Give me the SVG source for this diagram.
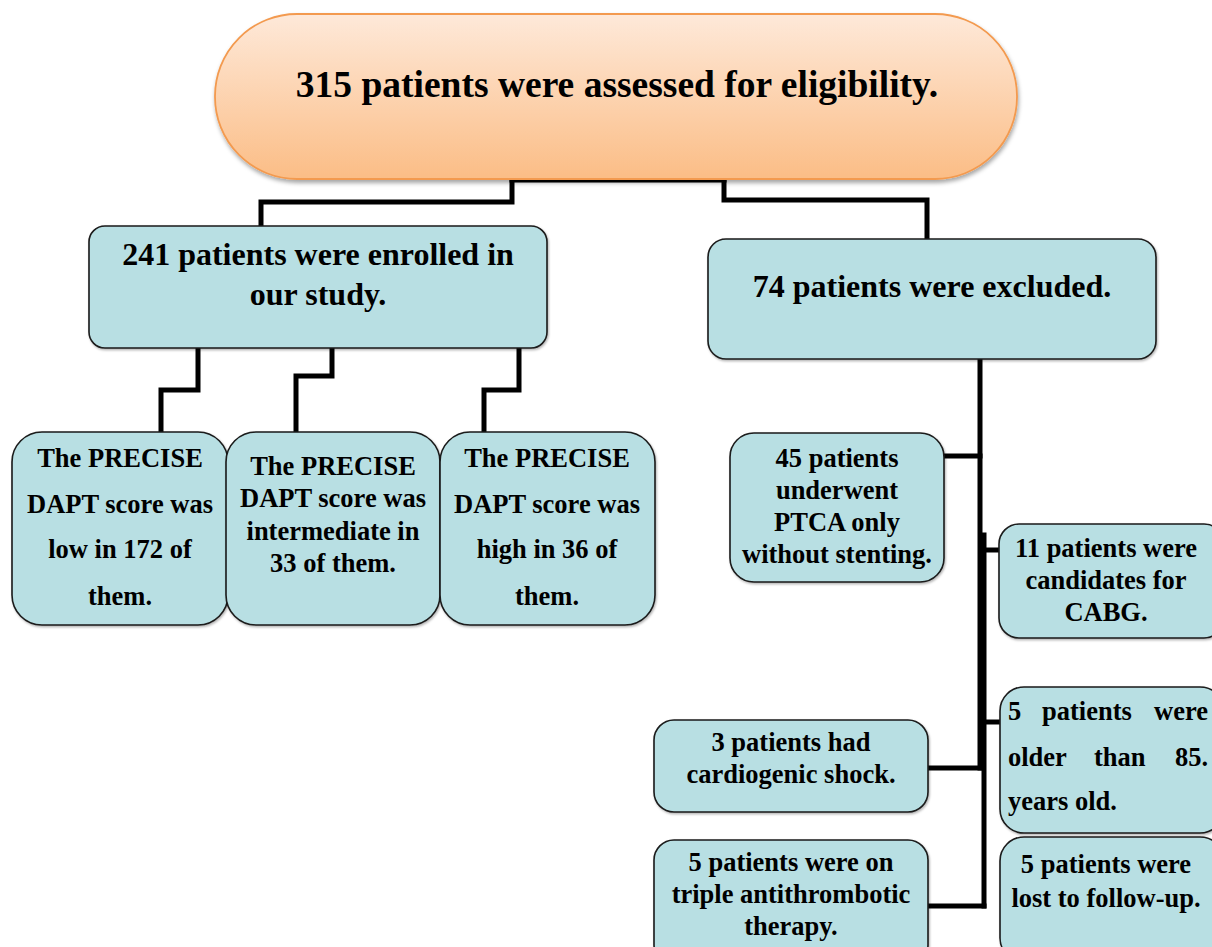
<svg xmlns="http://www.w3.org/2000/svg" width="1212" height="947" viewBox="0 0 1212 947">
<defs>
<linearGradient id="pillGrad" x1="0" y1="0" x2="0" y2="1">
<stop offset="0" stop-color="#fee9d9"/>
<stop offset="1" stop-color="#fbbd86"/>
</linearGradient>
<filter id="shadow" x="-5%" y="-10%" width="110%" height="125%">
<feDropShadow dx="1" dy="3" stdDeviation="2" flood-color="#000" flood-opacity="0.35"/>
</filter>
<filter id="bshadow" x="-5%" y="-5%" width="110%" height="115%">
<feDropShadow dx="1" dy="1.5" stdDeviation="1" flood-color="#000" flood-opacity="0.3"/>
</filter>
</defs>
<style>
.box{fill:#b8dfe3;stroke:#1a1a1a;stroke-width:1.6;filter:url(#bshadow)}
.t{font-family:"Liberation Serif","Times New Roman",serif;font-weight:bold;fill:#000;text-anchor:middle}
.s{font-size:26.5px}
.conn{fill:none;stroke:#000;stroke-width:5;stroke-linejoin:miter;stroke-linecap:square}
</style>
<rect width="1212" height="947" fill="#fff"/>

<g id="connectors">
<path class="conn" d="M512,180 H724"/>
<path class="conn" d="M512,180 V202 H261 V226"/>
<path class="conn" d="M724,180 V200 H927 V240"/>
<path class="conn" d="M198,348 V390 H161 V432"/>
<path class="conn" d="M332,348 V376 H296 V432"/>
<path class="conn" d="M519,348 V390 H484 V432"/>
<path class="conn" d="M980,359 V768"/>
<path class="conn" d="M984,535 V906"/>
<path class="conn" d="M944,456 H980"/>
<path class="conn" d="M986,550 H999"/>
<path class="conn" d="M986,722 H1000"/>
<path class="conn" d="M928,768 H980"/>
<path class="conn" d="M928,906 H984"/>
</g>

<g id="node-assessed">
<rect x="215" y="14" width="802" height="165" rx="82" ry="82" fill="url(#pillGrad)" stroke="#f39a4f" stroke-width="1.8" filter="url(#shadow)"/>
<text class="t" x="617" y="97" font-size="37.5">315 patients were assessed for eligibility.</text>
</g>

<g id="node-enrolled">
<rect class="box" x="89" y="226" width="458" height="122" rx="16"/>
<text class="t" font-size="32"><tspan x="318" y="265">241 patients were enrolled in</tspan><tspan x="318" y="305">our study.</tspan></text>
</g>

<g id="node-excluded">
<rect class="box" x="708" y="239" width="448" height="120" rx="18"/>
<text class="t" x="932" y="297" font-size="32">74 patients were excluded.</text>
</g>

<g id="node-low">
<rect class="box" x="12" y="432" width="216" height="193" rx="30"/>
<text class="t s"><tspan x="120" y="467">The PRECISE</tspan><tspan x="120" y="513">DAPT score was</tspan><tspan x="120" y="558">low in 172 of</tspan><tspan x="120" y="605">them.</tspan></text>
</g>

<g id="node-intermediate">
<rect class="box" x="226" y="432" width="214" height="193" rx="30"/>
<text class="t s"><tspan x="333" y="475">The PRECISE</tspan><tspan x="333" y="507">DAPT score was</tspan><tspan x="333" y="540">intermediate in</tspan><tspan x="333" y="572">33 of them.</tspan></text>
</g>

<g id="node-high">
<rect class="box" x="440" y="432" width="215" height="193" rx="30"/>
<text class="t s"><tspan x="547" y="467">The PRECISE</tspan><tspan x="547" y="513">DAPT score was</tspan><tspan x="547" y="558">high in 36 of</tspan><tspan x="547" y="605">them.</tspan></text>
</g>

<g id="node-ptca">
<rect class="box" x="730" y="433" width="214" height="149" rx="24"/>
<text class="t s"><tspan x="837" y="467">45 patients</tspan><tspan x="837" y="499">underwent</tspan><tspan x="837" y="531">PTCA only</tspan><tspan x="837" y="563">without stenting.</tspan></text>
</g>

<g id="node-cabg">
<rect class="box" x="999" y="524" width="225" height="114" rx="20"/>
<text class="t s"><tspan x="1106" y="557">11 patients were</tspan><tspan x="1106" y="589">candidates for</tspan><tspan x="1106" y="621">CABG.</tspan></text>
</g>

<g id="node-older">
<rect class="box" x="1000" y="687" width="224" height="146" rx="24"/>
<text class="t s"><tspan x="1008" y="720" text-anchor="start">5</tspan><tspan x="1042" y="720" text-anchor="start">patients</tspan><tspan x="1208" y="720" text-anchor="end">were</tspan></text>
<text class="t s"><tspan x="1008" y="766" text-anchor="start">older</tspan><tspan x="1094" y="766" text-anchor="start">than</tspan><tspan x="1208" y="766" text-anchor="end">85.</tspan></text>
<text class="t s"><tspan x="1008" y="810" text-anchor="start">years old.</tspan></text>
</g>

<g id="node-shock">
<rect class="box" x="654" y="720" width="274" height="92" rx="20"/>
<text class="t s"><tspan x="791" y="751">3 patients had</tspan><tspan x="791" y="783">cardiogenic shock.</tspan></text>
</g>

<g id="node-triple">
<rect class="box" x="654" y="840" width="274" height="125" rx="20"/>
<text class="t s"><tspan x="791" y="871">5 patients were on</tspan><tspan x="791" y="903">triple antithrombotic</tspan><tspan x="791" y="935">therapy.</tspan></text>
</g>

<g id="node-lost">
<rect class="box" x="1000" y="837" width="224" height="125" rx="24"/>
<text class="t s"><tspan x="1106" y="873">5 patients were</tspan><tspan x="1106" y="907">lost to follow-up.</tspan></text>
</g>
</svg>
